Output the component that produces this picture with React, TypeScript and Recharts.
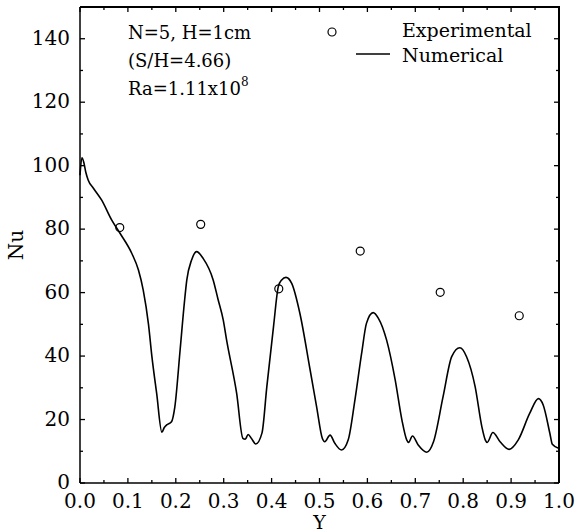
import React from "react";
import { ComposedChart, Line, Scatter, XAxis, YAxis, Legend } from "recharts";

// Numerical Nu(Y) curve
const numY = [
  0.0, 0.004, 0.008, 0.012, 0.017, 0.028, 0.045, 0.066, 0.0835, 0.108, 0.122,
  0.132, 0.143, 0.15, 0.16, 0.171, 0.176, 0.181, 0.191, 0.198, 0.209, 0.218,
  0.223, 0.233, 0.2435, 0.257, 0.278, 0.288, 0.299, 0.306, 0.327, 0.34, 0.345,
  0.351, 0.358, 0.367, 0.38, 0.39, 0.404, 0.414, 0.421, 0.43, 0.442, 0.459,
  0.48, 0.494, 0.506, 0.511, 0.522, 0.532, 0.546, 0.56, 0.574, 0.588, 0.598,
  0.612, 0.623, 0.64, 0.658, 0.672, 0.682, 0.686, 0.694, 0.706, 0.724, 0.738,
  0.758, 0.776, 0.793, 0.807, 0.825, 0.839, 0.846, 0.85, 0.862, 0.877, 0.896,
  0.915, 0.939, 0.957, 0.967, 0.981, 0.986, 1.0,
];
const numNu = [
  97, 102.5, 101, 98, 95.5, 92.9, 89.2, 82.9, 78.7, 72.4, 67.1,
  60.8, 50, 40, 28.3, 16.0, 17.5, 18.3, 19.3, 24.0, 41.9, 57,
  64, 70.3, 72.9, 70.8, 64, 58, 51.4, 45.1, 28.3, 14.1, 13.8,
  15.3, 14, 12.3, 15.8, 30.3, 49.3, 61.9, 64, 64.8, 62.9, 53.5,
  36, 24, 14, 13, 15.1, 12.5, 10.4, 13.6, 26.2, 40.9, 50.3,
  53.7, 51.9, 45.1, 32.5, 19.9, 13.6, 12.8, 14.8, 12, 9.7, 13,
  27.2, 39.8, 42.6, 39.8, 30.3, 17.7, 13.6, 12.8, 15.9, 13, 10.6,
  13.6, 22, 26.6, 24.6, 15.6, 12.2, 10.9,
];

// Experimental points
const expY = [0.083, 0.252, 0.415, 0.585, 0.752, 0.917];
const expNu = [80.5, 81.5, 61.2, 73.1, 60.1, 52.7];

const xTicks = [
  0, 0.05, 0.1, 0.15, 0.2, 0.25, 0.3, 0.35, 0.4, 0.45, 0.5, 0.55, 0.6, 0.65,
  0.7, 0.75, 0.8, 0.85, 0.9, 0.95, 1.0,
];
const yTicks = [0, 10, 20, 30, 40, 50, 60, 70, 80, 90, 100, 110, 120, 130, 140];

const numData = numY.map((y, i) => ({ x: y, y: numNu[i] }));
const expData = expY.map((y, i) => ({ x: y, y: expNu[i] }));

const FONT = "DejaVu Serif";
const W = 576;
const H = 532;
const MARGIN = { top: 7, right: 17, bottom: 0, left: 0 };
const Y_AXIS_W = 80;
const X_AXIS_H = 49;
const PLOT_W = W - MARGIN.left - MARGIN.right - Y_AXIS_W;
const PLOT_H = H - MARGIN.top - MARGIN.bottom - X_AXIS_H;

const isMajorX = (v: number) => Math.round(v * 20) % 2 === 0;
const isMajorY = (v: number) => v % 20 === 0;

// bottom tick + its mirror on the top frame
const BottomTick = (props: any) => {
  const { x, y, payload } = props;
  const len = isMajorX(payload.value) ? 5 : 3;
  const top = y - PLOT_H;
  return (
    <g>
      <line x1={x} y1={y} x2={x} y2={y - len} stroke="#000" strokeWidth={1.3} />
      <line x1={x} y1={top} x2={x} y2={top + len} stroke="#000" strokeWidth={1.3} />
      {isMajorX(payload.value) && (
        <text x={x} y={y + 25} textAnchor="middle" fontFamily={FONT} fontSize={20} fill="#000">
          {payload.value.toFixed(1)}
        </text>
      )}
    </g>
  );
};

// left tick + its mirror on the right frame
const LeftTick = (props: any) => {
  const { x, y, payload } = props;
  const len = isMajorY(payload.value) ? 5 : 3;
  const right = x + PLOT_W;
  return (
    <g>
      <line x1={x} y1={y} x2={x + len} y2={y} stroke="#000" strokeWidth={1.3} />
      <line x1={right} y1={y} x2={right - len} y2={y} stroke="#000" strokeWidth={1.3} />
      {isMajorY(payload.value) && (
        <text x={x - 10} y={y + 6} textAnchor="end" fontFamily={FONT} fontSize={20} fill="#000">
          {payload.value}
        </text>
      )}
    </g>
  );
};

const LegendBox = () => (
  <svg width={240} height={56}>
    <circle cx={12} cy={18} r={4} fill="none" stroke="#000" strokeWidth={1.2} />
    <text x={82} y={23} fontFamily={FONT} fontSize={19} fill="#000">
      Experimental
    </text>
    <line x1={36} y1={40} x2={70} y2={40} stroke="#000" strokeWidth={1.5} />
    <text x={82} y={48} fontFamily={FONT} fontSize={19} fill="#000">
      Numerical
    </text>
  </svg>
);

export default function App() {
  return (
    <div style={{ position: "absolute", left: 0, top: 0, width: W, height: H }}>
      <ComposedChart width={W} height={H} margin={MARGIN}>
        <XAxis
          dataKey="x"
          type="number"
          domain={[0, 1]}
          ticks={xTicks}
          interval={0}
          height={X_AXIS_H}
          tickSize={0}
          tickMargin={0}
          tick={<BottomTick />}
          axisLine={{ stroke: "#000", strokeWidth: 1.5 }}
          label={(p: any) => {
            const vb = p.viewBox;
            return (
              <text x={vb.x + vb.width / 2} y={vb.y + vb.height - 3} textAnchor="middle" fontFamily={FONT} fontSize={19} fill="#000">
                Y
              </text>
            );
          }}
        />
        <YAxis
          dataKey="y"
          type="number"
          domain={[0, 150]}
          ticks={yTicks}
          interval={0}
          width={Y_AXIS_W}
          tickSize={0}
          tickMargin={0}
          tick={<LeftTick />}
          axisLine={{ stroke: "#000", strokeWidth: 1.5 }}
          label={(p: any) => {
            const vb = p.viewBox;
            const cx = vb.x + 16;
            const cy = vb.y + vb.height / 2;
            return (
              <text x={cx} y={cy} transform={`rotate(-90 ${cx} ${cy})`} textAnchor="middle" dominantBaseline="central" fontFamily={FONT} fontSize={20} fill="#000">
                Nu
              </text>
            );
          }}
        />
        <Legend
          align="center"
          verticalAlign="middle"
          layout="horizontal"
          content={() => <LegendBox />}
          wrapperStyle={{ position: "absolute", left: 320, top: 14, width: 240, height: 56 }}
        />
        <Line
          data={numData}
          dataKey="y"
          type="monotone"
          stroke="#000"
          strokeWidth={1.6}
          dot={false}
          isAnimationActive={false}
          name="Numerical"
        />
        <Scatter
          data={expData}
          dataKey="y"
          shape={(p: any) => <circle cx={p.cx} cy={p.cy} r={4} fill="none" stroke="#000" strokeWidth={1.2} />}
          isAnimationActive={false}
          name="Experimental"
        />
      </ComposedChart>
      {/* top and right edges of the plot frame */}
      <div
        style={{
          position: "absolute",
          left: MARGIN.left + Y_AXIS_W,
          top: MARGIN.top - 1,
          width: PLOT_W + 1,
          height: PLOT_H + 1,
          boxSizing: "border-box",
          borderTop: "2px solid #000",
          borderRight: "2px solid #000",
          pointerEvents: "none",
        }}
      />
      <div
        style={{
          position: "absolute",
          left: 128,
          top: 19,
          fontFamily: FONT,
          fontSize: 18,
          lineHeight: "28px",
          color: "#000",
          whiteSpace: "nowrap",
        }}
      >
        <div>N=5, H=1cm</div>
        <div>(S/H=4.66)</div>
        <div>
          Ra=1.11x10<span style={{ fontSize: 12, position: "relative", top: -9 }}>8</span>
        </div>
      </div>
    </div>
  );
}
